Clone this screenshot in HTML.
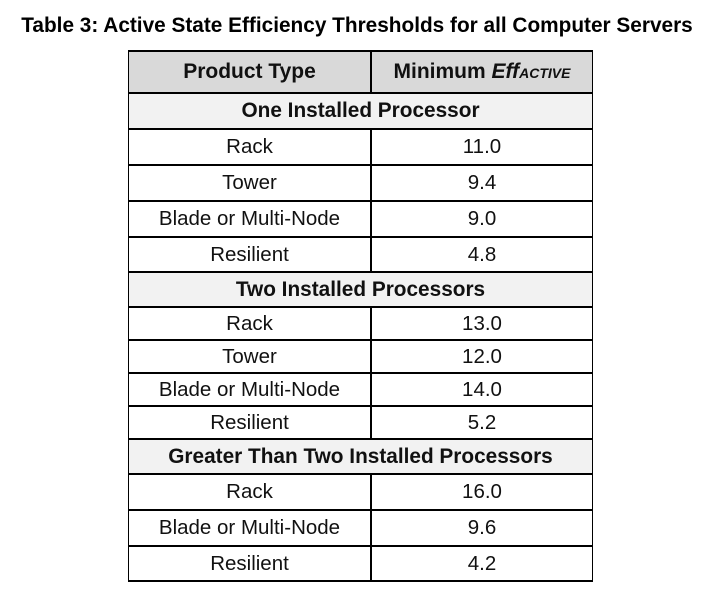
<!DOCTYPE html><html><head><style>
body{margin:0;width:714px;height:606px;background:#fff;font-family:"Liberation Sans",Arial,sans-serif;position:relative;overflow:hidden}
.t{position:absolute;left:0;width:714px;top:14px;text-align:center;font-weight:bold;font-size:20.8px}
.r{position:absolute;left:128px;width:465px;box-sizing:border-box;border:1px solid #000;border-top:2px solid #000;font-size:20.5px;color:#111}
.c{position:absolute;top:0;bottom:0;display:flex;align-items:center;justify-content:center}
.a{left:0;width:241px;border-right:2px solid #000}
.b{left:243px;right:0}
.s{background:#f2f2f2;font-weight:bold;font-size:20.8px}
.s .c{left:0;right:0}
</style></head><body>
<div class="t">Table 3: Active State Efficiency Thresholds for all Computer Servers</div>
<div class="r" style="top:50px;height:43px;background:#d9d9d9;font-weight:bold;font-size:21px"><div class="c a">Product Type</div><div class="c b">Minimum&nbsp;<i>Eff<span style="font-size:14px">ACTIVE</span></i></div></div>
<div class="r s" style="top:92px;height:37px"><div class="c">One Installed Processor</div></div>
<div class="r" style="top:128px;height:37px"><div class="c a">Rack</div><div class="c b">11.0</div></div>
<div class="r" style="top:164px;height:37px"><div class="c a">Tower</div><div class="c b">9.4</div></div>
<div class="r" style="top:200px;height:37px"><div class="c a">Blade or Multi-Node</div><div class="c b">9.0</div></div>
<div class="r" style="top:236px;height:36px"><div class="c a">Resilient</div><div class="c b">4.8</div></div>
<div class="r s" style="top:271px;height:36px"><div class="c">Two Installed Processors</div></div>
<div class="r" style="top:306px;height:34px"><div class="c a">Rack</div><div class="c b">13.0</div></div>
<div class="r" style="top:339px;height:34px"><div class="c a">Tower</div><div class="c b">12.0</div></div>
<div class="r" style="top:372px;height:34px"><div class="c a">Blade or Multi-Node</div><div class="c b">14.0</div></div>
<div class="r" style="top:405px;height:34px"><div class="c a">Resilient</div><div class="c b">5.2</div></div>
<div class="r s" style="top:438px;height:36px"><div class="c">Greater Than Two Installed Processors</div></div>
<div class="r" style="top:473px;height:37px"><div class="c a">Rack</div><div class="c b">16.0</div></div>
<div class="r" style="top:509px;height:37px"><div class="c a">Blade or Multi-Node</div><div class="c b">9.6</div></div>
<div class="r" style="top:545px;height:37px;border-bottom:2px solid #000"><div class="c a">Resilient</div><div class="c b">4.2</div></div>
</body></html>
